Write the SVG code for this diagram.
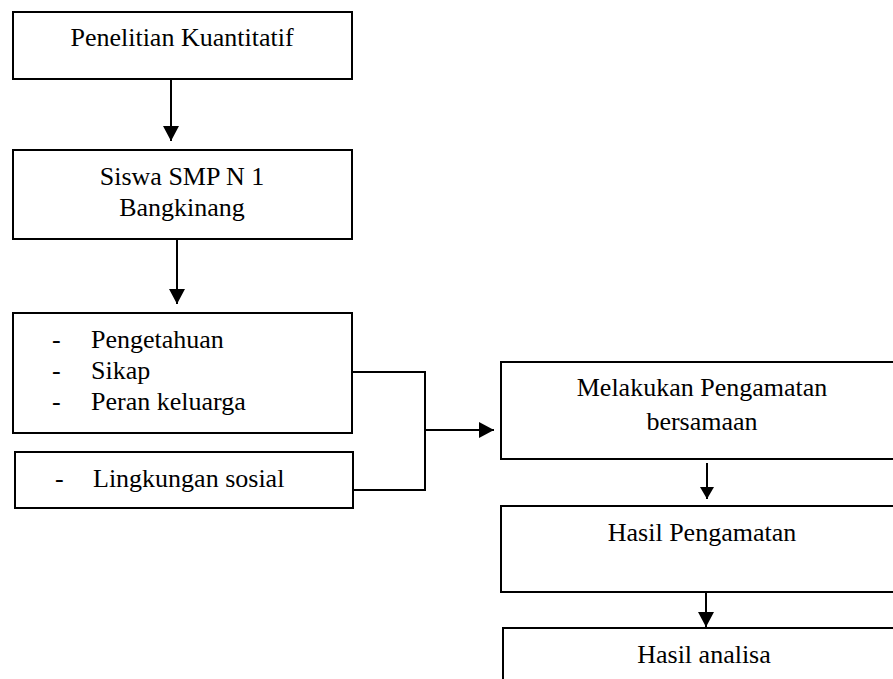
<svg xmlns="http://www.w3.org/2000/svg" width="893" height="679" viewBox="0 0 893 679">
<style>
.box{fill:#fff;stroke:#000;stroke-width:2}
.t{font-family:"Liberation Serif","Times New Roman",serif;font-size:26px;fill:#000}
.c{text-anchor:middle}
.ln{fill:none;stroke:#000;stroke-width:2}
</style>
<defs>
<marker id="ah" markerUnits="userSpaceOnUse" markerWidth="16" markerHeight="16" refX="15" refY="8" orient="auto" viewBox="0 0 16 16">
<path d="M0,0 L15,8 L0,16 z" fill="#000"/>
</marker>
<marker id="ahs" markerUnits="userSpaceOnUse" markerWidth="14" markerHeight="14" refX="12" refY="7" orient="auto" viewBox="0 0 14 14">
<path d="M0,0 L12,7 L0,14 z" fill="#000"/>
</marker>
</defs>
<rect width="893" height="679" fill="#fff"/>
<g id="connectors">
<line class="ln" x1="171" y1="79" x2="171" y2="141" marker-end="url(#ah)"/>
<line class="ln" x1="177" y1="240" x2="177" y2="304" marker-end="url(#ah)"/>
<polyline class="ln" points="352,372 425,372 425,490 353,490"/>
<line class="ln" x1="425" y1="430" x2="494" y2="430" marker-end="url(#ah)"/>
<line class="ln" x1="707" y1="463" x2="707" y2="499" marker-end="url(#ahs)"/>
<line class="ln" x1="706" y1="592" x2="706" y2="627" marker-end="url(#ah)"/>
</g>
<g id="n1">
<rect class="box" x="13" y="12" width="339" height="67"/>
<text class="t c" x="182" y="46">Penelitian Kuantitatif</text>
</g>
<g id="n2">
<rect class="box" x="13" y="150" width="339" height="89"/>
<text class="t c" x="182" y="185">Siswa SMP N 1</text>
<text class="t c" x="182" y="216">Bangkinang</text>
</g>
<g id="n3">
<rect class="box" x="13" y="313" width="339" height="120"/>
<text class="t" x="52" y="348">-</text>
<text class="t" x="91" y="348">Pengetahuan</text>
<text class="t" x="52" y="379">-</text>
<text class="t" x="91" y="379">Sikap</text>
<text class="t" x="52" y="410">-</text>
<text class="t" x="91" y="410">Peran keluarga</text>
</g>
<g id="n4">
<rect class="box" x="15" y="452" width="338" height="56"/>
<text class="t" x="55" y="487">-</text>
<text class="t" x="93" y="487">Lingkungan sosial</text>
</g>
<g id="n5">
<rect class="box" x="501" y="362" width="402" height="97"/>
<text class="t c" x="702" y="396">Melakukan Pengamatan</text>
<text class="t c" x="702" y="430">bersamaan</text>
</g>
<g id="n6">
<rect class="box" x="501" y="506" width="402" height="86"/>
<text class="t c" x="702" y="541">Hasil Pengamatan</text>
</g>
<g id="n7">
<rect class="box" x="503" y="628" width="400" height="70"/>
<text class="t c" x="704" y="663">Hasil analisa</text>
</g>
</svg>
